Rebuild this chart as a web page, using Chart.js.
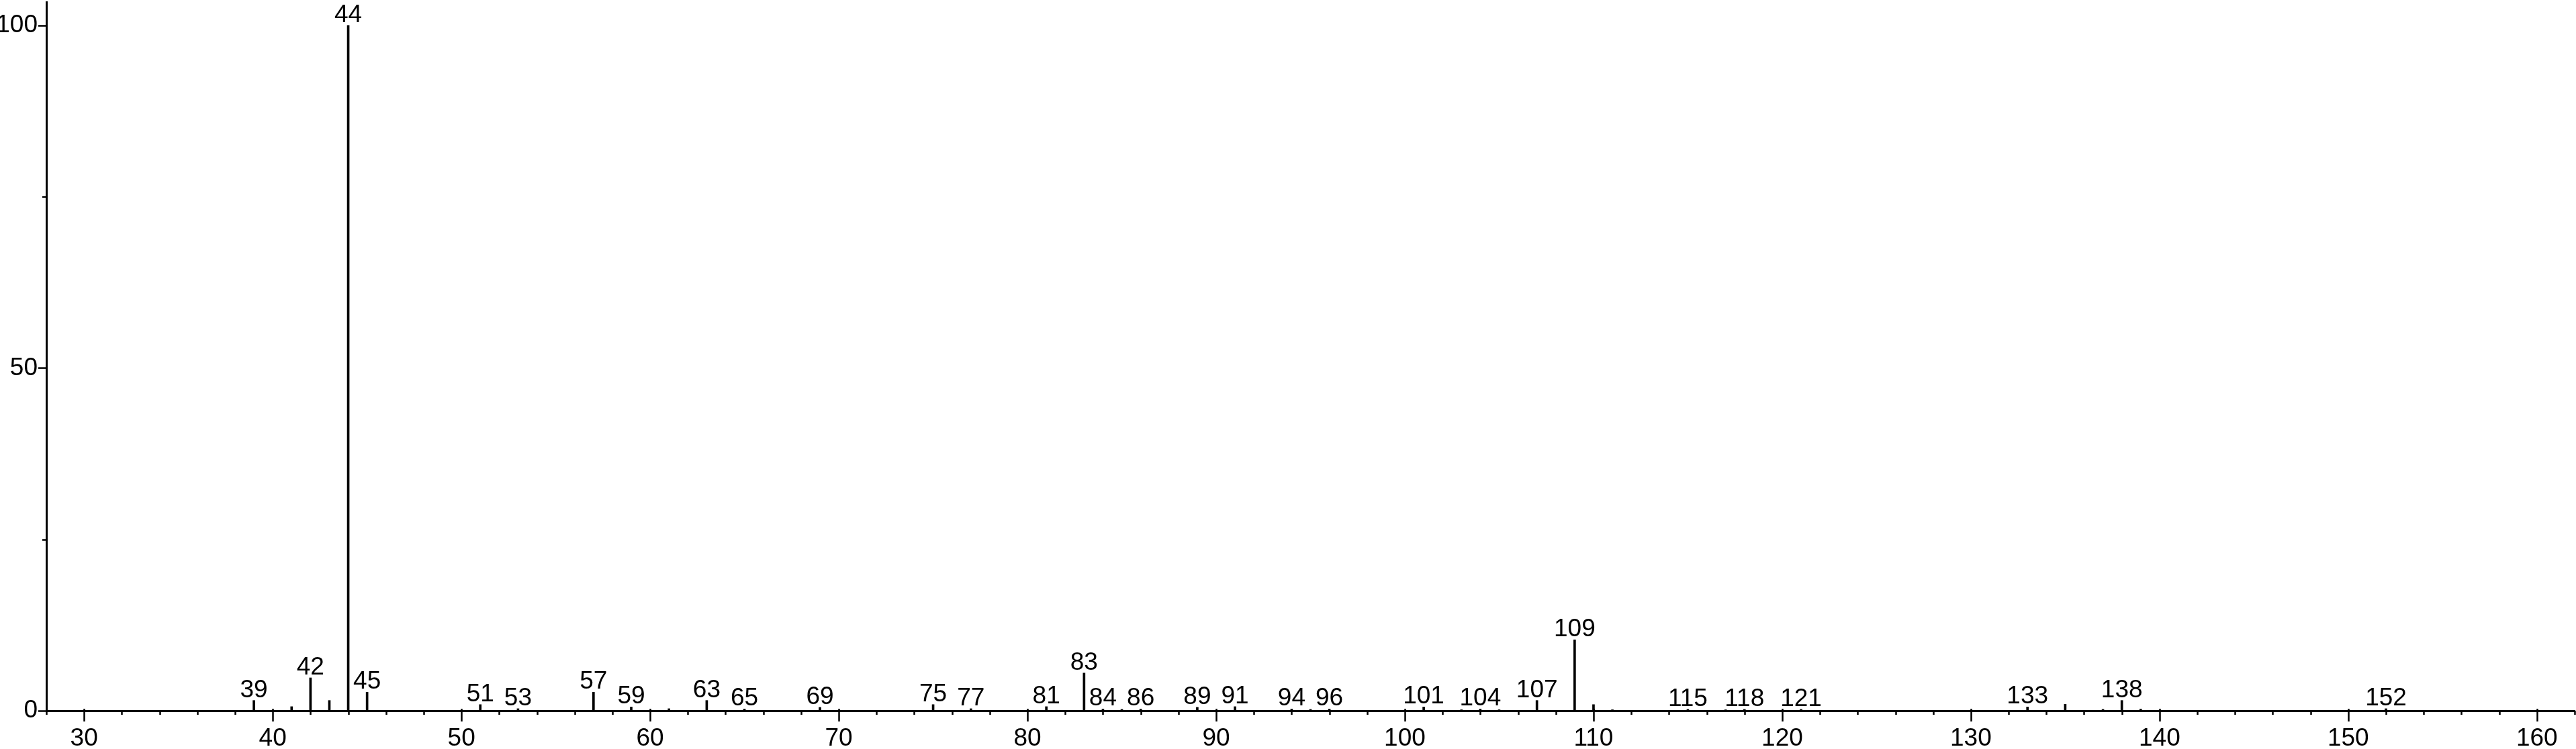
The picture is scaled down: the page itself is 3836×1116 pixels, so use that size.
<!DOCTYPE html>
<html>
<head>
<meta charset="utf-8">
<script src="https://cdn.jsdelivr.net/npm/chart.js@4.4.1/dist/chart.umd.min.js"></script>
<style>
  html, body { margin: 0; padding: 0; background: #ffffff; }
  #wrap { width: 3836px; height: 1116px; }
</style>
</head>
<body>
<div id="wrap"><canvas id="c" width="3836" height="1116"></canvas></div>
<script>
// m/z values of the peaks
const masses = [39, 41, 42, 43, 44, 45, 51, 53, 57, 59, 61, 63, 65, 69, 75, 77, 81, 83, 84, 85, 86, 89, 91, 94, 95, 96, 101, 103, 104, 105, 107, 109, 110, 111, 115, 117, 118, 121, 133, 135, 137, 138, 139, 152];
// relative intensities (%)
const intensities = [1.5, 0.6, 4.8, 1.5, 100, 2.7, 0.9, 0.3, 2.7, 0.55, 0.3, 1.5, 0.25, 0.5, 0.9, 0.3, 0.6, 5.5, 0.25, 0.2, 0.25, 0.5, 0.6, 0.25, 0.2, 0.25, 0.55, 0.15, 0.25, 0.15, 1.5, 10.35, 0.9, 0.15, 0.2, 0.15, 0.2, 0.2, 0.55, 0.95, 0.2, 1.5, 0.25, 0.3];
// peaks that carry an m/z annotation
const labeledMasses = [39, 42, 44, 45, 51, 53, 57, 59, 63, 65, 69, 75, 77, 81, 83, 84, 86, 89, 91, 94, 96, 101, 104, 107, 109, 115, 118, 121, 133, 138, 152];
// axis ticks
const xMin = 28, xMax = 162;
const xMajorTicks = [30, 40, 50, 60, 70, 80, 90, 100, 110, 120, 130, 140, 150, 160];
const yTickValues = [0, 25, 50, 75, 100];
const yTickLabels = ['0', '', '50', '', '100'];

const FONT = "'Liberation Sans Narrow', 'Arial Narrow', 'Liberation Sans', Arial, sans-serif";
const FONT_SIZE = 37;

const tickPlugin = {
  id: 'msTicks',
  afterDraw(chart) {
    const ctx = chart.ctx;
    const xs = chart.scales.x, ys = chart.scales.y;
    const axisY = chart.chartArea.bottom;
    const axisX = chart.chartArea.left;
    ctx.save();
    ctx.strokeStyle = '#000';
    ctx.lineWidth = 2.5;
    ctx.beginPath();
    for (let v = xMin; v <= xMax; v += 2) {
      const px = Math.round(xs.getPixelForValue(v)) + 0.5;
      const major = xMajorTicks.includes(v);
      ctx.moveTo(px, axisY - (major ? 3 : 0));
      ctx.lineTo(px, axisY + (major ? 16 : 6));
    }
    yTickValues.forEach((v, i) => {
      const py = Math.round(ys.getPixelForValue(v)) + 0.5;
      const major = yTickLabels[i] !== '';
      ctx.moveTo(axisX - (major ? 12 : 6), py);
      ctx.lineTo(axisX, py);
    });
    ctx.stroke();
    ctx.restore();
  }
};

const peakLabelPlugin = {
  id: 'peakLabels',
  afterDatasetsDraw(chart) {
    const ctx = chart.ctx;
    const meta = chart.getDatasetMeta(0);
    ctx.save();
    ctx.fillStyle = '#000';
    ctx.font = FONT_SIZE + 'px ' + FONT;
    ctx.textAlign = 'center';
    ctx.textBaseline = 'alphabetic';
    masses.forEach((m, i) => {
      if (!labeledMasses.includes(m)) return;
      const el = meta.data[i];
      ctx.fillText(String(m), el.x, el.y - 5);
    });
    ctx.restore();
  }
};

function noPad(s) {
  s.paddingTop = 0; s.paddingBottom = 0; s.paddingLeft = 0; s.paddingRight = 0;
}

new Chart(document.getElementById('c'), {
  type: 'bar',
  data: {
    datasets: [{
      data: masses.map((m, i) => ({ x: m, y: intensities[i] })),
      backgroundColor: '#000',
      borderWidth: 0,
      barThickness: 3
    }]
  },
  options: {
    responsive: false,
    devicePixelRatio: 1,
    animation: false,
    layout: { padding: { top: 3, right: 2, left: 0, bottom: 0 } },
    plugins: { legend: { display: false }, tooltip: { enabled: false } },
    scales: {
      x: {
        type: 'linear',
        min: xMin,
        max: xMax,
        offset: false,
        grid: { display: false, drawTicks: false },
        border: { display: true, color: '#000', width: 3 },
        ticks: {
          stepSize: 2,
          autoSkip: false,
          maxRotation: 0,
          padding: 20,
          color: '#000',
          font: { family: FONT, size: FONT_SIZE },
          callback: (v) => xMajorTicks.includes(v) ? String(v) : ''
        },
        afterFit: (s) => { s.height = 57; noPad(s); }
      },
      y: {
        min: 0,
        max: 103.4,
        grid: { display: false, drawTicks: false },
        border: { display: true, color: '#000', width: 3 },
        afterBuildTicks: (s) => { s.ticks = yTickValues.map(v => ({ value: v })); },
        ticks: {
          padding: 13,
          color: '#000',
          font: { family: FONT, size: FONT_SIZE },
          callback: (v) => { const i = yTickValues.indexOf(v); return i >= 0 ? yTickLabels[i] : ''; }
        },
        afterFit: (s) => { s.width = 69; noPad(s); }
      }
    }
  },
  plugins: [tickPlugin, peakLabelPlugin]
});
</script>
</body>
</html>
